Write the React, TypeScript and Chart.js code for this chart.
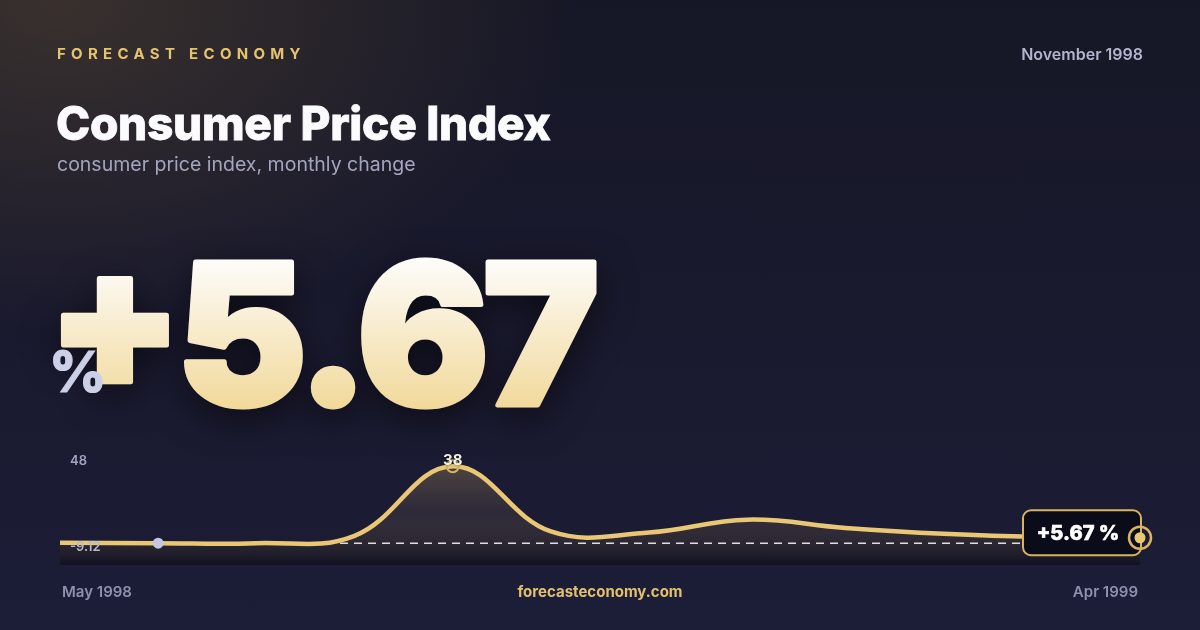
import React, { useEffect, useRef } from "react";
import { Chart, registerables } from "chart.js";

Chart.register(...registerables);

const months = ["May 1998", "Jun 1998", "Jul 1998", "Aug 1998", "Sep 1998", "Oct 1998", "Nov 1998", "Dec 1998", "Jan 1999", "Feb 1999", "Mar 1999", "Apr 1999"];
const cpiChange = [-8.8, -9.12, -9.1, -4.6, 38, -1.9, -2.6, 5.3, 0.2, -3.4, -5.4, -5.8];
const axisMin = -22.5;
const axisMax = 48;
const headlineSign = "+";
const headlineValue = "5.67";
const badgeText = "+5.67 %";
const maxLabel = "48";
const minLabel = "-9.12";

const GOLD = "#e9c775";
const GOLD_DARK = "#d9b35f";

export default function App() {
  const ref = useRef<HTMLCanvasElement | null>(null);

  useEffect(() => {
    document.body.style.margin = "0";
    const canvas = ref.current;
    if (!canvas) return;
    const minVal = Math.min(...cpiChange);
    const maxVal = Math.max(...cpiChange);
    const minIdx = cpiChange.indexOf(minVal);
    const maxIdx = cpiChange.indexOf(maxVal);

    const overlay = {
      id: "overlay",
      beforeDatasetDraw(chart: any) {
        const c = chart.ctx;
        const area = chart.chartArea;
        const y = chart.scales.y.getPixelForValue(minVal);
        c.save();
        c.strokeStyle = "rgba(255,255,255,0.85)";
        c.lineWidth = 1.5;
        c.setLineDash([8, 6]);
        c.beginPath();
        c.moveTo(area.left, y);
        c.lineTo(area.right, y);
        c.stroke();
        c.restore();
      },
      afterDatasetsDraw(chart: any) {
        const c = chart.ctx;
        const area = chart.chartArea;
        const pts = chart.getDatasetMeta(0).data;
        const yMinPx = chart.scales.y.getPixelForValue(minVal);
        c.save();
        // axis range labels
        c.font = "600 13px Inter";
        c.textAlign = "left";
        c.textBaseline = "middle";
        c.fillStyle = "#a2a4bf";
        c.fillText(maxLabel, area.left + 10, area.top + 11);
        c.fillStyle = "#b7bace";
        c.fillText(minLabel, area.left + 10, yMinPx + 4);

        // min dot
        const pm = pts[minIdx];
        c.fillStyle = "#c4c7de";
        c.beginPath();
        c.arc(pm.x, pm.y, 5.5, 0, Math.PI * 2);
        c.fill();

        // max ring + label
        const px = pts[maxIdx];
        c.strokeStyle = GOLD_DARK;
        c.lineWidth = 2;
        c.beginPath();
        c.arc(px.x, px.y, 6, 0, Math.PI * 2);
        c.stroke();
        c.font = "700 15px Inter";
        c.textAlign = "center";
        c.fillStyle = "#f3f1ea";
        c.shadowColor = "rgba(0,0,0,0.5)";
        c.shadowBlur = 3;
        c.fillText(String(maxVal), px.x, px.y - 6);
        c.shadowBlur = 0;

        // end badge
        const pe = pts[pts.length - 1];
        const bw = 118, bh = 45;
        const bx = pe.x - bw + 1;
        const by = pe.y - 5 - bh / 2;
        c.fillStyle = "#0b0c1a";
        c.strokeStyle = GOLD_DARK;
        c.lineWidth = 2;
        c.beginPath();
        c.roundRect(bx, by, bw, bh, 8);
        c.fill();
        c.stroke();
        c.fillStyle = "#ffffff";
        c.font = "800 20px Inter";
        c.textAlign = "center";
        c.strokeStyle = "#ffffff";
        c.lineWidth = 0.6;
        c.strokeText(badgeText, bx + bw / 2 - 4, by + bh / 2 + 1);
        c.fillText(badgeText, bx + bw / 2 - 4, by + bh / 2 + 1);

        // end marker
        c.strokeStyle = GOLD_DARK;
        c.lineWidth = 2.5;
        c.beginPath();
        c.arc(pe.x, pe.y, 11, 0, Math.PI * 2);
        c.stroke();
        c.fillStyle = GOLD;
        c.beginPath();
        c.arc(pe.x, pe.y, 5.5, 0, Math.PI * 2);
        c.fill();
        c.restore();
      },
    };

    const chart = new Chart(canvas, {
      type: "line",
      data: {
        labels: months,
        datasets: [
          {
            data: cpiChange,
            borderColor: GOLD,
            borderWidth: 4.5,
            tension: 0.4,
            pointRadius: 0,
            fill: "start",
            clip: false as any,
            backgroundColor: (ctx: any) => {
              const ch = ctx.chart;
              const area = ch.chartArea;
              if (!area) return "rgba(0,0,0,0)";
              const g = ch.ctx.createLinearGradient(0, area.top, 0, area.bottom);
              g.addColorStop(0, "rgba(232,196,110,0.32)");
              g.addColorStop(0.55, "rgba(160,130,90,0.14)");
              g.addColorStop(1, "rgba(6,6,14,0.5)");
              return g;
            },
          },
        ],
      },
      options: {
        responsive: false,
        animation: false,
        layout: { padding: { left: 60, right: 60, top: 450, bottom: 65 } },
        scales: {
          x: { display: false },
          y: { display: false, min: axisMin, max: axisMax },
        },
        plugins: { legend: { display: false }, tooltip: { enabled: false } },
      },
      plugins: [overlay],
    });
    return () => chart.destroy();
  }, []);

  const base: React.CSSProperties = { position: "absolute", lineHeight: 1, whiteSpace: "nowrap", fontFamily: "Inter, sans-serif" };

  return (
    <div
      style={{
        position: "fixed",
        left: 0,
        top: 0,
        width: 1200,
        height: 630,
        overflow: "hidden",
        background:
          "radial-gradient(ellipse 720px 460px at 60px 0px, rgba(100,80,55,0.45), rgba(0,0,0,0) 72%), linear-gradient(180deg, #161726 0%, #1a1a30 60%, #1c1d37 100%)",
      }}
    >
      <canvas ref={ref} width={1200} height={630} style={{ position: "absolute", left: 0, top: 0, width: 1200, height: 630 }} />
      <div style={{ ...base, left: 57, top: 46, fontSize: 15, fontWeight: 700, letterSpacing: 5.3, color: "#e6c36d" }}>FORECAST ECONOMY</div>
      <div style={{ ...base, right: 57, top: 46, fontSize: 16, fontWeight: 600, color: "#b3b5cd" }}>November 1998</div>
      <div style={{ ...base, left: 56, top: 100, fontSize: 46, fontWeight: 800, color: "#fbfbfd", letterSpacing: -0.3, WebkitTextStroke: "0.8px #fbfbfd" }}>Consumer Price Index</div>
      <div style={{ ...base, left: 57, top: 155.2, fontSize: 19.5, fontWeight: 400, color: "#a3a5c0" }}>consumer price index, monthly change</div>
      <svg width={720} height={280} style={{ position: "absolute", left: 0, top: 200, overflow: "visible", filter: "drop-shadow(0 10px 18px rgba(0,0,0,0.55))" }}>
        <defs>
          <linearGradient id="numGrad" gradientUnits="userSpaceOnUse" x1="0" y1="60" x2="0" y2="208">
            <stop offset="0" stopColor="#fdfcf9" />
            <stop offset="1" stopColor="#f2d99b" />
          </linearGradient>
        </defs>
        <text
          x={47}
          y={205}
          fill="url(#numGrad)"
          stroke="url(#numGrad)"
          strokeWidth={5}
          strokeLinejoin="round"
          style={{ fontFamily: "Inter, sans-serif", fontSize: 196, fontWeight: 900, letterSpacing: "-6.5px" }}
        >
          <tspan dy={-17}>{headlineSign}</tspan>
          <tspan dy={17}>{headlineValue}</tspan>
        </text>
      </svg>
      <div style={{ ...base, left: 49, top: 344, fontSize: 56, fontWeight: 800, color: "#ccd0e6", WebkitTextStroke: "1px #ccd0e6" }}>%</div>
      <div style={{ ...base, left: 62, top: 584, fontSize: 15, fontWeight: 600, color: "#8e91ad" }}>May 1998</div>
      <div style={{ ...base, left: 0, width: 1200, textAlign: "center", top: 584, fontSize: 15, fontWeight: 700, color: "#e3c06c" }}>forecasteconomy.com</div>
      <div style={{ ...base, right: 62, top: 584, fontSize: 15, fontWeight: 600, color: "#8e91ad" }}>Apr 1999</div>
    </div>
  );
}
